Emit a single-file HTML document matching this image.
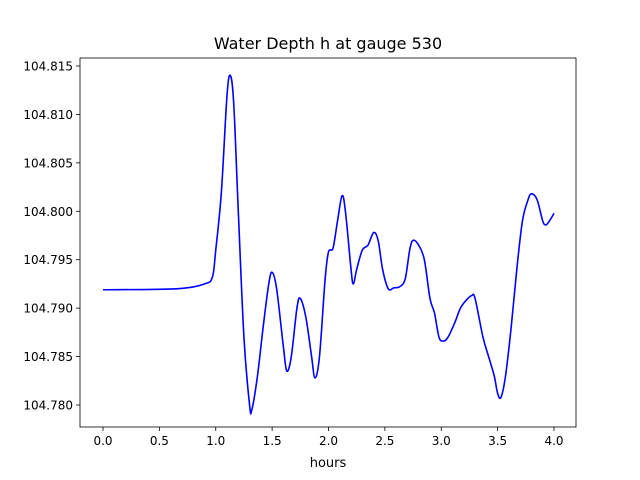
<!DOCTYPE html>
<html><head><meta charset="utf-8"><style>
body{margin:0;background:#fff;}
svg{display:block;font-family:"DejaVu Sans","Liberation Sans",sans-serif;}
</style></head><body>
<svg id="chart" width="640" height="480" viewBox="0 0 640 480">
<rect width="640" height="480" fill="#fff"/>
<text x="328" y="49" font-size="16" text-anchor="middle">Water Depth h at gauge 530</text>
<g id="axes"></g>
<text x="328" y="467" font-size="13" text-anchor="middle">hours</text>
</svg>
<script>
const hours=[0,0.65,0.9,0.97,1.0,1.05,1.1,1.13,1.16,1.2,1.25,1.3,1.32,1.37,1.42,1.47,1.5,1.54,1.6,1.63,1.67,1.72,1.75,1.8,1.85,1.88,1.92,1.97,2.0,2.04,2.08,2.12,2.15,2.2,2.22,2.25,2.3,2.35,2.4,2.44,2.48,2.53,2.58,2.63,2.68,2.72,2.75,2.8,2.85,2.9,2.94,2.98,3.02,3.06,3.12,3.17,3.22,3.27,3.3,3.37,3.42,3.47,3.5,3.53,3.57,3.62,3.67,3.72,3.77,3.8,3.85,3.9,3.93,3.97,4.0];
const depth=[104.7919,104.7920,104.7925,104.7932,104.7960,104.8020,104.8120,104.8140,104.8110,104.8000,104.7870,104.7800,104.7795,104.7830,104.7880,104.7925,104.7937,104.7920,104.7860,104.7835,104.7850,104.7900,104.7910,104.7890,104.7850,104.7828,104.7850,104.7930,104.7958,104.7962,104.7990,104.8016,104.8000,104.7940,104.7925,104.7940,104.7960,104.7965,104.7978,104.7970,104.7940,104.7920,104.7921,104.7922,104.7930,104.7960,104.7970,104.7965,104.7950,104.7910,104.7895,104.7870,104.7866,104.7870,104.7885,104.7900,104.7908,104.7913,104.7910,104.7870,104.7850,104.7830,104.7812,104.7808,104.7830,104.7880,104.7940,104.7990,104.8012,104.8018,104.8012,104.7990,104.7986,104.7992,104.7998];
const xTicks=[0,0.5,1,1.5,2,2.5,3,3.5,4];
const xTickLabels=["0.0","0.5","1.0","1.5","2.0","2.5","3.0","3.5","4.0"];
const yTicks=[104.780,104.785,104.790,104.795,104.800,104.805,104.810,104.815];
const yTickLabels=["104.780","104.785","104.790","104.795","104.800","104.805","104.810","104.815"];
const L=80,R=576,T=58,B=427;
const xs=v=>103+(v-0)*(554-103)/4;
const ys=v=>405-(v-104.780)*(405-66)/0.035;
const NS="http://www.w3.org/2000/svg";
const g=document.getElementById('axes');
function mk(t,a){const e=document.createElementNS(NS,t);for(const k in a)e.setAttribute(k,a[k]);g.appendChild(e);return e;}
xTicks.forEach((v,i)=>{
 const l=mk('line',{x1:xs(v),x2:xs(v),y1:B,y2:B+4,stroke:'#000','stroke-width':0.8});
 
 
 const t=mk('text',{x:xs(v),y:B+18,'font-size':12,'text-anchor':'middle'});t.textContent=xTickLabels[i];
 
 
});
yTicks.forEach((v,i)=>{
 const l=mk('line',{x1:L-4,x2:L,y1:ys(v),y2:ys(v),stroke:'#000','stroke-width':0.8});
 
 
 const t=mk('text',{x:L-7,y:ys(v)+4.5,'font-size':12,'text-anchor':'end'});t.textContent=yTickLabels[i];
 
 
});
// smooth path (Catmull-Rom)
const P=hours.map((h,i)=>[xs(h),ys(depth[i])]);
let d='M'+P[0][0]+','+P[0][1];
for(let i=0;i<P.length-1;i++){
 const p0=P[Math.max(i-1,0)],p1=P[i],p2=P[i+1],p3=P[Math.min(i+2,P.length-1)];
 const c1=[p1[0]+(p2[0]-p0[0])/6,p1[1]+(p2[1]-p0[1])/6];
 const c2=[p2[0]-(p3[0]-p1[0])/6,p2[1]-(p3[1]-p1[1])/6];
 d+=` C${c1[0]},${c1[1]} ${c2[0]},${c2[1]} ${p2[0]},${p2[1]}`;
}
const line=mk('path',{d:d,fill:'none',stroke:'#0000ff','stroke-width':1.6});


const f=mk('rect',{x:L,y:T,width:R-L,height:B-T,fill:'none',stroke:'#000','stroke-width':0.8});


</script>
</body></html>
